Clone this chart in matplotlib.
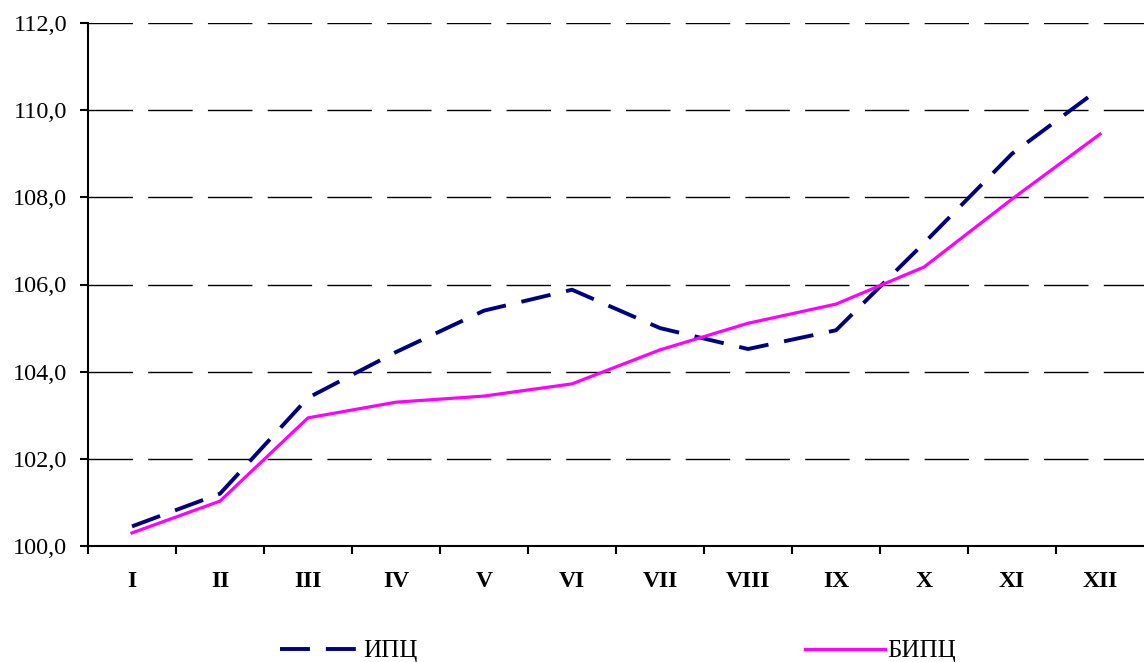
import matplotlib.pyplot as plt
from matplotlib.lines import Line2D

plt.rcParams['font.family'] = ['Liberation Serif', 'DejaVu Serif']

# months and index values
months = ["I", "II", "III", "IV", "V", "VI", "VII", "VIII", "IX", "X", "XI", "XII"]
ipc = [100.45, 101.2, 103.4, 104.45, 105.4, 105.88, 105.0, 104.52, 104.95, 106.95, 109.0, 110.5]
bipc = [100.3, 101.03, 102.94, 103.3, 103.44, 103.72, 104.5, 105.11, 105.55, 106.4, 107.96, 109.45]

fig = plt.figure(figsize=(11.44, 6.62), dpi=100)
ax = fig.add_axes([88 / 1144, 116 / 662, 1 - 88 / 1144, 523 / 662])

x = list(range(1, len(months) + 1))
ax.plot(x, ipc, color="#000080", lw=2.8, dashes=(7.7, 4.1), label="ИПЦ")
ax.plot(x, bipc, color="#ff00ff", lw=2.3, label="БИПЦ")

ax.set_xlim(0.5, 12.5)
ax.set_ylim(100, 112)
ax.set_yticks([100 + 2 * i for i in range(7)])
ax.set_yticklabels([f"{100 + 2 * i},0" for i in range(7)], fontsize=17.5)

# labels at centers, tick marks at category boundaries
ax.set_xticks(x)
ax.set_xticklabels(months, fontsize=17, fontweight="bold")
ax.tick_params(axis="x", which="major", length=0, pad=18)
ax.set_xticks([i + 0.5 for i in range(12)], minor=True)
ax.tick_params(axis="x", which="minor", length=6, width=1.5, direction="out")
ax.tick_params(axis="y", length=6, width=1.5, direction="out", pad=9)

for y in range(102, 113, 2):
    ax.axhline(y, color="black", lw=1, dashes=(32, 11), zorder=0)

for s in ["top", "right"]:
    ax.spines[s].set_visible(False)
for s in ["left", "bottom"]:
    ax.spines[s].set_linewidth(1.5)

h1 = Line2D([], [], color="#000080", lw=2.8, dashes=(7.7, 4.1))
h2 = Line2D([], [], color="#ff00ff", lw=2.3)
fig.legend([h1], ["ИПЦ"], loc="center left", bbox_to_anchor=(257 / 1144, 11 / 662),
           frameon=False, fontsize=18, handlelength=3.05, handletextpad=0.3)
fig.legend([h2], ["БИПЦ"], loc="center left", bbox_to_anchor=(782 / 1144, 11 / 662),
           frameon=False, fontsize=18, handlelength=3.2, handletextpad=0.1)

fig.savefig("out.png", dpi=100)
